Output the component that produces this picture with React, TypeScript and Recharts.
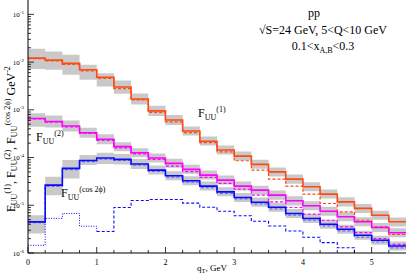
import { Area, ComposedChart, Line, XAxis, YAxis } from "recharts";

// bin left edges (q_T, GeV); last bin ends at 5.5
const binStart = [
  0, 0.25, 0.5, 0.75, 1, 1.25, 1.5, 1.75, 2, 2.25, 2.5, 2.75, 3, 3.25, 3.5, 3.75, 4, 4.25, 4.5, 4.75, 5,
  5.25,
];
const binEnd = 5.5;

const fuu1 = [
  1.21e-2, 1.1e-2, 9.4e-3, 6.9e-3, 4.8e-3, 3.0e-3, 1.69e-3, 9.5e-4, 6.1e-4, 3.6e-4, 2.2e-4, 1.44e-4,
  1.07e-4, 7.2e-5, 5.0e-5, 3.53e-5, 2.44e-5, 1.71e-5, 1.18e-5, 8.6e-6, 6.2e-6, 4.5e-6,
];
const fuu1Dash = [
  1.185e-2, 1.064e-2, 9.0e-3, 6.56e-3, 4.57e-3, 2.79e-3, 1.61e-3, 8.82e-4, 5.57e-4, 3.32e-4, 2.05e-4,
  1.31e-4, 8.57e-5, 5.46e-5, 3.53e-5, 2.52e-5, 1.71e-5, 1.09e-5, 7.27e-6, 4.86e-6, 3.52e-6, 2.44e-6,
];
const fuu1Lo = [
  7.13e-3, 6.9e-3, 5.4e-3, 4.25e-3, 3.07e-3, 2.16e-3, 1.3e-3, 7.45e-4, 4.82e-4, 2.9e-4, 1.79e-4, 1.16e-4,
  8.65e-5, 5.79e-5, 3.99e-5, 2.84e-5, 1.96e-5, 1.38e-5, 9.48e-6, 6.89e-6, 4.98e-6, 3.6e-6,
];
const fuu1Hi = [
  1.9e-2, 1.67e-2, 1.42e-2, 8.78e-3, 5.87e-3, 4.1e-3, 2.21e-3, 1.21e-3, 7.8e-4, 4.48e-4, 2.76e-4, 1.79e-4,
  1.34e-4, 8.95e-5, 6.16e-5, 4.4e-5, 3.03e-5, 2.13e-5, 1.47e-5, 1.06e-5, 7.7e-6, 5.57e-6,
];

const fuu2 = [
  6.6e-4, 5.7e-4, 4.59e-4, 3.32e-4, 2.41e-4, 1.69e-4, 1.26e-4, 9.76e-5, 7.55e-5, 5.65e-5, 4.29e-5, 3.37e-5,
  2.52e-5, 2.08e-5, 1.63e-5, 1.24e-5, 9.8e-6, 7.52e-6, 5.76e-6, 4.52e-6, 3.42e-6, 2.66e-6,
];
const fuu2Dash = [
  6.44e-4, 5.52e-4, 4.37e-4, 3.19e-4, 2.3e-4, 1.6e-4, 1.19e-4, 9.16e-5, 6.63e-5, 5.06e-5, 3.84e-5,
  2.87e-5, 2.18e-5, 1.63e-5, 1.18e-5, 8.99e-6, 6.5e-6, 4.86e-6, 3.52e-6, 2.68e-6, 2.01e-6, 1.52e-6,
];
const fuu2Lo = [
  4.44e-4, 4.27e-4, 3.52e-4, 2.61e-4, 1.89e-4, 1.36e-4, 1.01e-4, 7.85e-5, 6.08e-5, 4.55e-5, 3.45e-5,
  2.71e-5, 2.03e-5, 1.67e-5, 1.31e-5, 9.95e-6, 7.89e-6, 6.05e-6, 4.63e-6, 3.64e-6, 2.75e-6, 2.14e-6,
];
const fuu2Hi = [
  8.49e-4, 7.62e-4, 5.99e-4, 4.23e-4, 3.07e-4, 2.1e-4, 1.57e-4, 1.21e-4, 9.39e-5, 7.03e-5, 5.33e-5,
  4.19e-5, 3.13e-5, 2.58e-5, 2.03e-5, 1.54e-5, 1.22e-5, 9.35e-6, 7.16e-6, 5.62e-6, 4.25e-6, 3.3e-6,
];

const fuuCos = [
  4.48e-6, 2.64e-5, 5.93e-5, 8.65e-5, 9.76e-5, 9.16e-5, 7.3e-5, 5.46e-5, 4.15e-5, 3.26e-5, 2.52e-5,
  1.91e-5, 1.46e-5, 1.16e-5, 9.12e-6, 6.73e-6, 5.28e-6, 4.01e-6, 3.15e-6, 2.35e-6, 1.85e-6, 1.4e-6,
];
const fuuCosDash = [
  4.3e-6, 2.5e-5, 5.6e-5, 8.2e-5, 9.3e-5, 8.7e-5, 6.9e-5, 5.1e-5, 3.9e-5, 3.05e-5, 2.35e-5, 1.78e-5,
  1.36e-5, 1.07e-5, 8.4e-6, 6.2e-6, 4.85e-6, 3.7e-6, 2.9e-6, 2.15e-6, 1.7e-6, 1.28e-6,
];
const fuuCosLo = [
  2.56e-6, 1.63e-5, 3.66e-5, 6.96e-5, 7.3e-5, 7.13e-5, 5.73e-5, 4.4e-5, 3.34e-5, 2.62e-5, 2.03e-5,
  1.54e-5, 1.17e-5, 9.35e-6, 7.34e-6, 5.41e-6, 4.25e-6, 3.22e-6, 2.53e-6, 1.89e-6, 1.49e-6, 1.13e-6,
];
const fuuCosHi = [
  6.19e-6, 3.95e-5, 8.86e-5, 1.13e-4, 1.26e-4, 1.19e-4, 9.3e-5, 6.79e-5, 5.15e-5, 4.05e-5, 3.13e-5,
  2.38e-5, 1.81e-5, 1.45e-5, 1.13e-5, 8.36e-6, 6.56e-6, 4.98e-6, 3.91e-6, 2.92e-6, 2.3e-6, 1.74e-6,
];
// lower blue curve: dotted for the first bins, dashed afterwards
const fuuCosLow = [
  1.45e-6, 5.31e-6, 6.73e-6, 3.64e-6, 2.83e-6, 8.99e-6, 1.26e-5, 1.32e-5, 1.32e-5, 1.11e-5, 9.12e-6,
  7.52e-6, 6.05e-6, 4.63e-6, 3.67e-6, 2.9e-6, 2.14e-6, 1.65e-6, 1.29e-6, 7e-7, 5e-7, 4e-7,
];
const dottedUntil = 4;

const xMajorTicks = [0, 1, 2, 3, 4, 5];
const xMinorTicks = [
  0.25, 0.5, 0.75, 1.25, 1.5, 1.75, 2.25, 2.5, 2.75, 3.25, 3.5, 3.75, 4.25, 4.5, 4.75, 5.25,
];
const yMajorTicks = [1e-6, 1e-5, 1e-4, 1e-3, 1e-2, 1e-1];
const yTickExponents = ["-6", "-5", "-4", "-3", "-2", "-1"];
const yMinorSteps = [2, 3, 4, 5, 6, 7, 8, 9];

const ORANGE = "#ff4a12";
const MAGENTA = "#ff00ff";
const BLUE = "#0a0aff";
const BAND = "#c9c9c9";
const SERIF = "'Liberation Serif', 'Times New Roman', serif";

const rows = [...binStart, binEnd].map((x, j) => {
  const i = Math.min(j, binStart.length - 1);
  return {
    x,
    o: fuu1[i],
    oD: fuu1Dash[i],
    oBand: [fuu1Lo[i], fuu1Hi[i]],
    m: fuu2[i],
    mD: fuu2Dash[i],
    mBand: [fuu2Lo[i], fuu2Hi[i]],
    b: fuuCos[i],
    bD: fuuCosDash[i],
    bBand: [fuuCosLo[i], fuuCosHi[i]],
    lowDot: i <= dottedUntil ? fuuCosLow[i] : null,
    lowDash: i >= dottedUntil ? fuuCosLow[i] : null,
  };
});

const yMinorTicks = yMajorTicks.flatMap((d) => yMinorSteps.map((s) => d * s)).filter((v) => v < 0.2);
const yTicks = [...yMajorTicks, ...yMinorTicks];
const xTicks = [...xMajorTicks, ...xMinorTicks];

function XTickBottom({ x, y, payload }: any) {
  const major = xMajorTicks.includes(payload.value);
  return (
    <g>
      <line x1={x} x2={x} y1={y} y2={y - (major ? 6 : 3)} stroke="#000" strokeWidth={0.8} />
      {major && (
        <text x={x} y={y + 12} textAnchor="middle" fontSize={8} fontFamily={SERIF} fill="#000">
          {payload.value}
        </text>
      )}
    </g>
  );
}

function XTickTop({ x, y, payload }: any) {
  const major = xMajorTicks.includes(payload.value);
  return <line x1={x} x2={x} y1={y} y2={y + (major ? 6 : 3)} stroke="#000" strokeWidth={0.8} />;
}

function YTickLeft({ x, y, payload }: any) {
  const k = yMajorTicks.findIndex((t) => Math.abs(t - payload.value) / t < 1e-6);
  const major = k >= 0;
  return (
    <g>
      <line x1={x} x2={x + (major ? 6 : 3)} y1={y} y2={y} stroke="#000" strokeWidth={0.8} />
      {major && (
        <text x={x - 4} y={y + 2.5} textAnchor="end" fontSize={7} fontFamily={SERIF} fill="#000">
          10
          <tspan fontSize={5} dy={-3}>
            {yTickExponents[k]}
          </tspan>
        </text>
      )}
    </g>
  );
}

function YTickRight({ x, y, payload }: any) {
  const major = yMajorTicks.some((t) => Math.abs(t - payload.value) / t < 1e-6);
  return <line x1={x} x2={x - (major ? 6 : 3)} y1={y} y2={y} stroke="#000" strokeWidth={0.8} />;
}

// F_UU^(sup) drawn at the start of a text element
function FuuLabel({ x, y, sup }: { x: number; y: number; sup: string }) {
  return (
    <text x={x} y={y} fontSize={12}>
      F
      <tspan fontSize={8} dy={2.5}>
        UU
      </tspan>
      <tspan fontSize={8} dy={-7.5}>
        {sup}
      </tspan>
    </text>
  );
}

export default function App() {
  return (
    <div style={{ position: "absolute", left: 0, top: 0, width: 407, height: 276, background: "#fff" }}>
      <ComposedChart width={407} height={276} data={rows} margin={{ top: 0, right: 1, bottom: 0, left: 0 }}>
        <XAxis
          dataKey="x"
          type="number"
          domain={[0, binEnd]}
          ticks={xTicks}
          interval={0}
          height={23}
          tickSize={0}
          tickMargin={0}
          tickLine={false}
          tick={<XTickBottom />}
          stroke="#000"
          allowDataOverflow
        />
        <XAxis
          xAxisId="top"
          dataKey="x"
          type="number"
          orientation="top"
          domain={[0, binEnd]}
          ticks={xTicks}
          interval={0}
          height={0}
          tickSize={0}
          tickMargin={0}
          tickLine={false}
          tick={<XTickTop />}
          stroke="#000"
          allowDataOverflow
        />
        <YAxis
          scale="log"
          type="number"
          domain={[1e-6, 0.2]}
          ticks={yTicks}
          interval={0}
          width={28}
          tickSize={0}
          tickMargin={0}
          tickLine={false}
          tick={<YTickLeft />}
          stroke="#000"
          allowDataOverflow
        />
        <YAxis
          yAxisId="right"
          orientation="right"
          scale="log"
          type="number"
          domain={[1e-6, 0.2]}
          ticks={yTicks}
          interval={0}
          width={0}
          tickSize={0}
          tickMargin={0}
          tickLine={false}
          tick={<YTickRight />}
          stroke="#000"
          allowDataOverflow
        />

        <Area dataKey="oBand" type="stepAfter" fill={BAND} fillOpacity={1} stroke="none" isAnimationActive={false} />
        <Area dataKey="mBand" type="stepAfter" fill={BAND} fillOpacity={1} stroke="none" isAnimationActive={false} />
        <Area dataKey="bBand" type="stepAfter" fill={BAND} fillOpacity={1} stroke="none" isAnimationActive={false} />

        <Line dataKey="oD" type="stepAfter" stroke={ORANGE} strokeWidth={1.2} strokeDasharray="3 2" dot={false} isAnimationActive={false} />
        <Line dataKey="mD" type="stepAfter" stroke={MAGENTA} strokeWidth={1.2} strokeDasharray="3 2" dot={false} isAnimationActive={false} />
        <Line dataKey="bD" type="stepAfter" stroke="#6a6aff" strokeWidth={1.2} strokeDasharray="3 2" dot={false} isAnimationActive={false} />
        <Line dataKey="lowDot" type="stepAfter" stroke={BLUE} strokeWidth={1} strokeDasharray="1 1.5" dot={false} connectNulls={false} isAnimationActive={false} />
        <Line dataKey="lowDash" type="stepAfter" stroke={BLUE} strokeWidth={1.1} strokeDasharray="3 2" dot={false} connectNulls={false} isAnimationActive={false} />

        <Line dataKey="o" type="stepAfter" stroke={ORANGE} strokeWidth={1.6} dot={false} isAnimationActive={false} />
        <Line dataKey="m" type="stepAfter" stroke={MAGENTA} strokeWidth={1.6} dot={false} isAnimationActive={false} />
        <Line dataKey="b" type="stepAfter" stroke={BLUE} strokeWidth={1.6} dot={false} isAnimationActive={false} />
      </ComposedChart>

      <svg
        width={407}
        height={276}
        style={{ position: "absolute", left: 0, top: 0, pointerEvents: "none" }}
        fontFamily={SERIF}
        fill="#000"
      >
        <text x={314} y={17} textAnchor="middle" fontSize={12}>
          pp
        </text>
        <text x={323} y={34} textAnchor="middle" fontSize={12}>
          √S=24 GeV, 5&lt;Q&lt;10 GeV
        </text>
        <text x={323} y={50} textAnchor="middle" fontSize={12}>
          0.1&lt;x
          <tspan fontSize={8} dy={3}>
            A,B
          </tspan>
          <tspan dy={-3}>&lt;0.3</tspan>
        </text>

        <FuuLabel x={198} y={117} sup="(1)" />
        <FuuLabel x={36} y={141} sup="(2)" />
        <FuuLabel x={61} y={197} sup="(cos 2ϕ)" />

        <text x={212} y={271} textAnchor="middle" fontSize={9}>
          q
          <tspan fontSize={6.5} dy={2}>
            T
          </tspan>
          <tspan dy={-2}>, GeV</tspan>
        </text>

        <text transform="translate(15,212) rotate(-90)" fontSize={12}>
          F
          <tspan fontSize={8.2} dy={2.4}>UU</tspan>
          <tspan fontSize={8.2} dy={-7}>(1)</tspan>
          <tspan dy={4.6}>, F</tspan>
          <tspan fontSize={8.2} dy={2.4}>UU</tspan>
          <tspan fontSize={8.2} dy={-7}>(2)</tspan>
          <tspan dy={4.6}>, F</tspan>
          <tspan fontSize={8.2} dy={2.4}>UU</tspan>
          <tspan fontSize={8.2} dy={-7}>(cos 2ϕ)</tspan>
          <tspan dy={4.6}> GeV</tspan>
          <tspan fontSize={8.2} dy={-4.6}>-2</tspan>
        </text>
      </svg>
    </div>
  );
}
